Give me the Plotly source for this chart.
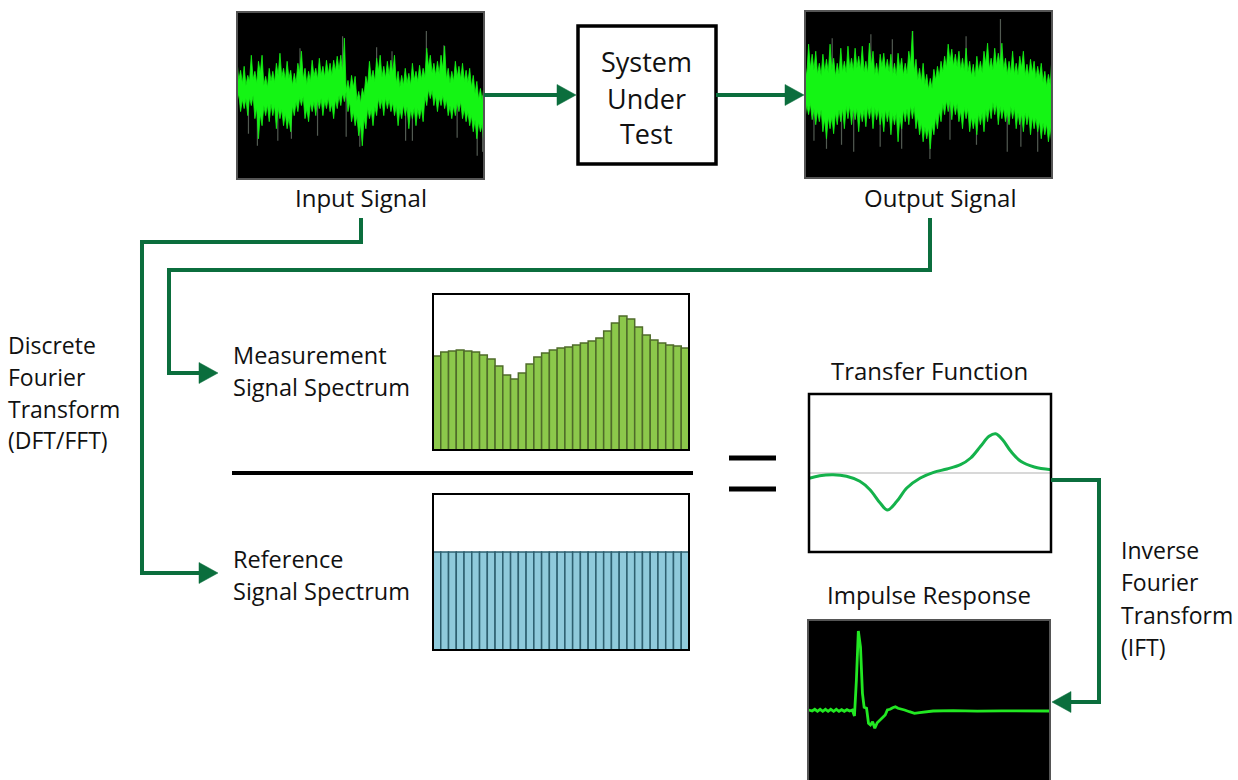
import plotly.graph_objects as go

W, H = 1238, 780

# ---------------- data ----------------
# Input / output noise signals: spike tips of the upper and lower envelope,
# plus the notches between neighbouring spikes (pixel-ish amplitude units)
input_top = [34, 25, 29, 20, 40, 24, 34, 40, 19, 27, 24, 32, 42, 27, 34, 25, 22, 32, 44, 27,
             24, 35, 27, 37, 29, 35, 32, 35, 39, 40, 57, 15, 20, 19, 4, 7, 19, 34, 25, 37,
             40, 29, 34, 35, 40, 24, 20, 27, 22, 32, 24, 30, 27, 47, 40, 32, 34, 40, 49, 27,
             24, 34, 29, 32, 25, 27, 20, 14, 7, 10]
input_top_notch = [15, 12, 10, 14, 16, 12, 22, 10, 8, 14, 13, 20, 18, 15, 17, 10, 12, 22, 16, 11,
                   14, 19, 16, 20, 18, 21, 20, 24, 25, 22, 5, 4, 8, -5, -8, 0, 10, 16, 14, 24,
                   18, 17, 20, 22, 12, 8, 10, 12, 10, 15, 14, 16, 18, 28, 22, 20, 21, 26, 16, 12,
                   14, 18, 16, 14, 13, 8, 2, -4, -6]
input_bot = [-6, -16, -13, -20, -10, -23, -43, -30, -20, -26, -20, -33, -23, -30, -33, -36, -20, -16, -10, -23,
             -26, -16, -20, -13, -20, -13, -16, -23, -13, -10, -6, -16, -26, -30, -40, -50, -33, -23, -30, -20,
             -13, -20, -13, -16, -20, -30, -23, -20, -33, -23, -30, -23, -26, -10, -3, -10, -16, -10, -13, -20,
             -23, -20, -16, -23, -26, -30, -36, -43, -36, -50]
input_bot_notch = [2, -4, -3, -2, 0, -12, -18, -10, -9, -8, -10, -12, -14, -18, -22, -10, -6, -2, -1, -13,
                   -7, -6, -4, -3, -5, -2, -8, -4, 0, 3, 4, -6, -16, -20, -28, -22, -12, -14, -11, -3,
                   -4, -2, -4, -7, -10, -13, -9, -11, -14, -12, -13, -12, -1, 6, 5, 0, -2, 0, -4, -10,
                   -10, -7, -6, -13, -16, -20, -24, -26, -28]
input_spike_pos = [5.7, 11.4, 15.2, 30.5, 34.3, 47.1, 49.0, 67.1, 68.6, 29.5, 52.9, 57.8, 17.6, 43.3,
                   3.2, 22.5, 39.0, 61.5]
input_spike_val = [-50, -45, -43, -41, -51, -45, -45, -60, -56, 59, 64, 50, 47, 44,
                   -38, -40, 48, -42]

output_top = [30, 50, 40, 43, 31, 40, 35, 50, 36, 31, 46, 33, 48, 36, 46, 38, 48, 33, 51, 43,
              31, 40, 41, 35, 40, 31, 41, 36, 31, 43, 63, 35, 26, 31, 20, 16, 25, 28, 33, 38,
              50, 45, 40, 43, 36, 46, 33, 30, 38, 33, 43, 51, 36, 46, 41, 51, 36, 33, 43, 31,
              38, 43, 30, 35, 33, 28, 31, 23, 20, 38]
output_top_notch = [18, 26, 24, 20, 19, 22, 21, 24, 18, 20, 22, 21, 25, 23, 26, 24, 22, 21, 28, 20,
                    18, 27, 24, 22, 19, 18, 24, 19, 20, 30, 22, 14, 12, 10, 5, 6, 14, 17, 22, 26,
                    32, 28, 27, 24, 23, 22, 18, 17, 22, 21, 30, 25, 24, 28, 29, 24, 20, 21, 20, 19,
                    26, 19, 18, 21, 16, 17, 12, 8, 10]
output_bot = [-24, -20, -25, -30, -27, -37, -44, -34, -39, -30, -27, -34, -24, -30, -25, -37, -27, -32, -24, -34,
              -25, -30, -37, -27, -40, -30, -47, -34, -27, -30, -24, -34, -40, -47, -44, -54, -40, -34, -27, -20,
              -17, -25, -20, -27, -34, -24, -37, -34, -40, -30, -37, -27, -24, -20, -30, -24, -27, -30, -24, -34,
              -30, -37, -30, -40, -34, -37, -44, -40, -47, -50]
output_bot_notch = [-10, -9, -14, -16, -15, -24, -22, -22, -18, -15, -14, -12, -11, -13, -14, -16, -15, -12, -12, -13,
                    -14, -18, -15, -16, -19, -18, -22, -15, -14, -11, -12, -22, -28, -32, -33, -30, -22, -16, -9, -6,
                    -6, -8, -9, -16, -13, -14, -22, -23, -19, -18, -15, -12, -8, -9, -12, -13, -16, -12, -13, -18,
                    -19, -18, -19, -22, -23, -26, -28, -29, -33]
output_spike_pos = [30.1, 54.6, 7.6, 18.4, 45.0, 68.9, 6.0, 13.6, 27.0, 34.9, 47.9, 56.5, 69.3, 65.0,
                    2.5, 10.2, 21.0, 40.5, 60.3, 24.4]
output_spike_val = [63, 75, 56, 60, 58, 40, -54, -57, -54, -64, -50, -57, -69, -57,
                    -46, -50, -52, -45, -52, 55]

# Spectra (33 frequency bins)
bins = list(range(33))
meas_level = [94, 98, 99, 100, 99, 98, 95, 91, 84, 75, 71, 77, 86, 93, 97, 100, 102, 103, 105, 107,
              109, 112, 119, 127, 134, 131, 123, 115, 110, 107, 105, 104, 102]
ref_level = [98] * 33

# Transfer function
tf_freq = [0.0, 0.044, 0.10, 0.155, 0.21, 0.252, 0.294, 0.324, 0.363, 0.404, 0.46, 0.515,
           0.57, 0.626, 0.668, 0.709, 0.744, 0.771, 0.80, 0.834, 0.875, 0.931, 1.0]
tf_val = [-5.3, -2.7, -1.7, -3.3, -8.3, -16.7, -30, -37, -28.3, -15, -5, 0.7,
          4, 8.3, 15, 26.7, 36.7, 39.3, 33.3, 21.7, 11.7, 6, 3.3]

# Impulse response
ir_time = [0.003, 0.017, 0.028, 0.039, 0.05, 0.061, 0.072, 0.083, 0.094, 0.106, 0.117, 0.128,
           0.139, 0.15, 0.161, 0.172, 0.183, 0.192, 0.20, 0.208, 0.217, 0.225, 0.232, 0.242,
           0.25, 0.258, 0.267, 0.276, 0.286, 0.297, 0.308, 0.319, 0.328, 0.339, 0.35, 0.361,
           0.372, 0.385, 0.399, 0.419, 0.44, 0.461, 0.489, 0.517, 0.6, 0.7, 0.8, 0.9, 0.97, 1.0]
ir_val = [1, 0, 1.7, -0.3, 1.7, -0.3, 1.7, -0.3, 1.7, -0.3, 1.7, -0.3,
          1.3, -0.3, 1.3, 0, 1, -5, 31, 80, 64, 17.7, 3.7, 2.7,
          -12.3, -14, -10.7, -17.3, -11.7, -9, -5.7, -4, 1, 1.7, 3.3, 4.3,
          2.7, 2, 1, -0.7, -2.3, -1.7, -0.7, 0, 0.3, -0.2, 0.2, 0, 0.5, 0]

# ---------------- helpers ----------------
def px(x):
    return x / W


def py(y):
    return 1 - y / H


def dx(l, r):
    return [px(l), px(r)]


def dy(t, b):
    return [max(0, py(b)), py(t)]


GREEN_ARROW = "#0b6e3d"
SIG_GREEN = "#14f514"

# panel boxes (pixels): left, top, right, bottom
P_IN = (237, 12, 484, 179)
P_OUT = (805, 11, 1052, 178)
P_MEAS = (433, 294, 689, 450)
P_REF = (433, 494, 689, 650)
P_TF = (809, 394, 1051, 552)
P_IR = (808, 620, 1050, 780)

fig = go.Figure()


def spikes(pos, val):
    xs, ys = [], []
    for p, v in zip(pos, val):
        xs += [p, p, None]
        ys += [0, v, None]
    return xs, ys


def edge(tips, notches):
    xs, ys = [], []
    for i, t in enumerate(tips):
        xs.append(i)
        ys.append(t)
        if i < len(notches):
            xs.append(i + 0.5)
            ys.append(notches[i])
    return xs, ys


def band(top, top_n, bot, bot_n):
    tx, ty = edge(top, top_n)
    bx, by = edge(bot, bot_n)
    return tx + bx[::-1], ty + by[::-1]


# input signal
n_in = len(input_top)
sx, sy = spikes(input_spike_pos, input_spike_val)
fig.add_trace(go.Scatter(x=sx, y=sy, mode="lines", line=dict(color="rgba(110,120,110,0.75)", width=1.2),
                         xaxis="x", yaxis="y", hoverinfo="skip"))
bx, by = band(input_top, input_top_notch, input_bot, input_bot_notch)
fig.add_trace(go.Scatter(x=bx, y=by, mode="lines", fill="toself",
                         fillcolor=SIG_GREEN, line=dict(color=SIG_GREEN, width=0.8),
                         xaxis="x", yaxis="y", hoverinfo="skip"))

# output signal
n_out = len(output_top)
sx, sy = spikes(output_spike_pos, output_spike_val)
fig.add_trace(go.Scatter(x=sx, y=sy, mode="lines", line=dict(color="rgba(110,120,110,0.75)", width=1.2),
                         xaxis="x2", yaxis="y2", hoverinfo="skip"))
bx, by = band(output_top, output_top_notch, output_bot, output_bot_notch)
fig.add_trace(go.Scatter(x=bx, y=by, mode="lines", fill="toself",
                         fillcolor=SIG_GREEN, line=dict(color=SIG_GREEN, width=0.8),
                         xaxis="x2", yaxis="y2", hoverinfo="skip"))

# measurement spectrum
fig.add_trace(go.Bar(x=bins, y=meas_level, marker=dict(color="#8cc84b", line=dict(color="#4f6b2a", width=1.5)),
                     xaxis="x3", yaxis="y3", hoverinfo="skip"))
# reference spectrum
fig.add_trace(go.Bar(x=bins, y=ref_level, marker=dict(color="#8fcadb", line=dict(color="#2e6070", width=1.5)),
                     xaxis="x4", yaxis="y4", hoverinfo="skip"))
# transfer function
fig.add_trace(go.Scatter(x=tf_freq, y=tf_val, mode="lines",
                         line=dict(color="#14b24b", width=3, shape="spline", smoothing=1.0),
                         xaxis="x5", yaxis="y5", hoverinfo="skip"))
# impulse response
fig.add_trace(go.Scatter(x=ir_time, y=ir_val, mode="lines", line=dict(color="#22e822", width=2.8),
                         xaxis="x6", yaxis="y6", hoverinfo="skip"))

hidden = dict(visible=False, fixedrange=True)
layout_axes = dict(
    xaxis=dict(domain=dx(P_IN[0], P_IN[2]), range=[0, n_in - 1], anchor="y", **hidden),
    yaxis=dict(domain=dy(P_IN[1], P_IN[3]), range=[-83, 83], anchor="x", **hidden),
    xaxis2=dict(domain=dx(P_OUT[0], P_OUT[2]), range=[0, n_out - 1], anchor="y2", **hidden),
    yaxis2=dict(domain=dy(P_OUT[1], P_OUT[3]), range=[-83, 83], anchor="x2", **hidden),
    xaxis3=dict(domain=dx(P_MEAS[0], P_MEAS[2]), range=[-0.5, 32.5], anchor="y3", **hidden),
    yaxis3=dict(domain=dy(P_MEAS[1], P_MEAS[3]), range=[0, 156], anchor="x3", **hidden),
    xaxis4=dict(domain=dx(P_REF[0], P_REF[2]), range=[-0.5, 32.5], anchor="y4", **hidden),
    yaxis4=dict(domain=dy(P_REF[1], P_REF[3]), range=[0, 156], anchor="x4", **hidden),
    xaxis5=dict(domain=dx(P_TF[0], P_TF[2]), range=[0, 1], anchor="y5", **hidden),
    yaxis5=dict(domain=dy(P_TF[1], P_TF[3]), range=[-79, 79], anchor="x5", fixedrange=True,
                showgrid=False, showticklabels=False, ticks="", showline=False,
                zeroline=True, zerolinecolor="#d8d8d8", zerolinewidth=1.5),
    xaxis6=dict(domain=dx(P_IR[0], P_IR[2]), range=[0, 1], anchor="y6", **hidden),
    yaxis6=dict(domain=dy(P_IR[1], P_IR[3]), range=[-69, 91], anchor="x6", **hidden),
)

shapes = []


def rect(box, line_color, width, fill=None, layer="above"):
    l, t, r, b = box
    shapes.append(dict(type="rect", xref="paper", yref="paper", x0=px(l), x1=px(r), y0=py(b), y1=py(t),
                       line=dict(color=line_color, width=width),
                       fillcolor=fill if fill else "rgba(0,0,0,0)", layer=layer))


def line(x0, y0, x1, y1, color, width):
    shapes.append(dict(type="line", xref="paper", yref="paper", x0=px(x0), y0=py(y0), x1=px(x1), y1=py(y1),
                       line=dict(color=color, width=width), layer="above"))


def poly(points, color, width=4, closed=False, fill=None):
    d = "M " + " L ".join(f"{px(x):.5f},{py(y):.5f}" for x, y in points)
    if closed:
        d += " Z"
    shapes.append(dict(type="path", xref="paper", yref="paper", path=d,
                       line=dict(color=color, width=width),
                       fillcolor=fill if fill else "rgba(0,0,0,0)", layer="above"))


def head(tip_x, tip_y, direction):
    L, Hw = 19, 10.5
    if direction == "right":
        pts = [(tip_x, tip_y), (tip_x - L, tip_y - Hw), (tip_x - L, tip_y + Hw)]
    else:
        pts = [(tip_x, tip_y), (tip_x + L, tip_y - Hw), (tip_x + L, tip_y + Hw)]
    poly(pts, GREEN_ARROW, width=0.5, closed=True, fill=GREEN_ARROW)


# black backgrounds for scope-style panels
rect((P_IN[0], P_IN[1], P_IN[2], P_IN[3]), "#000", 0, fill="#000", layer="below")
rect((P_OUT[0], P_OUT[1], P_OUT[2], P_OUT[3]), "#000", 0, fill="#000", layer="below")
rect((P_IR[0], P_IR[1], P_IR[2], 800), "#000", 0, fill="#000", layer="below")

# borders
rect(P_IN, "#555555", 2)
rect(P_OUT, "#555555", 2)
rect((P_IR[0], P_IR[1], P_IR[2], 800), "#555555", 2)
rect(P_MEAS, "#000000", 2)
rect(P_REF, "#000000", 2)
rect(P_TF, "#000000", 2.5)
rect((578, 26, 716, 164), "#000000", 3.5)

# arrows
line(484, 95, 560, 95, GREEN_ARROW, 4)
head(576, 95, "right")
line(716, 95, 788, 95, GREEN_ARROW, 4)
head(804, 95, "right")
poly([(361, 218), (361, 242), (142, 242), (142, 573), (202, 573)], GREEN_ARROW, 4)
head(218, 573, "right")
poly([(930, 218), (930, 270), (169, 270), (169, 373), (202, 373)], GREEN_ARROW, 4)
head(218, 373, "right")
poly([(1051, 480), (1099, 480), (1099, 702), (1068, 702)], GREEN_ARROW, 4)
head(1052, 702, "left")

# division line and equals sign
line(232, 473, 693, 473, "#000", 4)
line(729, 458, 776, 458, "#000", 5)
line(729, 489, 776, 489, "#000", 5)

annotations = []
FONT = "Open Sans"


def text(s, x, y, anchor="left", size=23):
    annotations.append(dict(text=s, x=px(x), y=py(y), xref="paper", yref="paper", showarrow=False,
                            xanchor=anchor, yanchor="middle",
                            font=dict(family=FONT, size=size, color="#111")))


text("Input Signal", 361, 197, "center", 24)
text("Output Signal", 940, 197, "center", 24)
text("System", 646, 62, "center", 27)
text("Under", 646, 98, "center", 27)
text("Test", 646, 133, "center", 27)
text("Measurement", 231, 355, "left", 23.5)
text("Signal Spectrum", 231, 387, "left", 23.5)
text("Reference", 231, 559, "left", 23.5)
text("Signal Spectrum", 231, 591, "left", 23.5)
text("Discrete", 6, 345, "left")
text("Fourier", 6, 377, "left")
text("Transform", 6, 409, "left")
text("(DFT/FFT)", 6, 440, "left")
text("Transfer Function", 929, 370, "center", 24)
text("Impulse Response", 929, 594, "center", 24)
text("Inverse", 1119, 550, "left")
text("Fourier", 1119, 582, "left")
text("Transform", 1119, 615, "left")
text("(IFT)", 1119, 647, "left")

fig.update_layout(
    width=W, height=H, autosize=False,
    margin=dict(l=0, r=0, t=0, b=0),
    paper_bgcolor="white", plot_bgcolor="rgba(0,0,0,0)",
    showlegend=False, bargap=0,
    shapes=shapes, annotations=annotations,
    **layout_axes,
)

fig.write_html("out.html", config={"displayModeBar": False, "staticPlot": True},
               post_script="document.body.style.margin='0';")
